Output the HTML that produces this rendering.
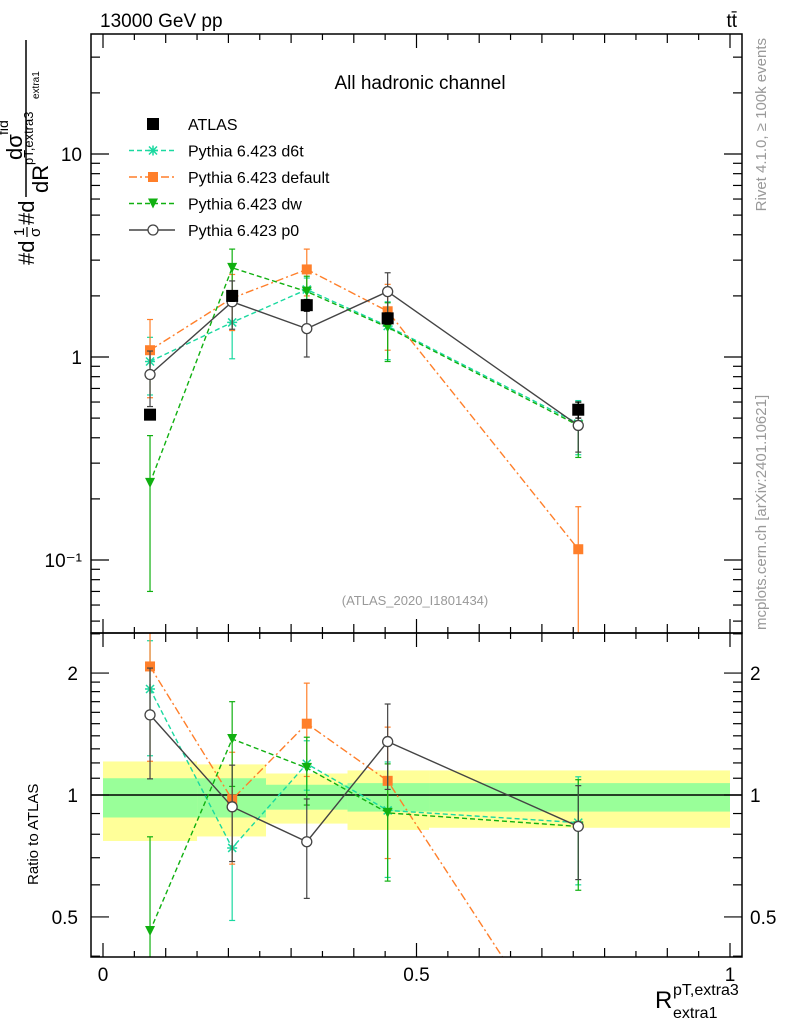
<!DOCTYPE html>
<html><head><meta charset="utf-8"><style>
body{margin:0;background:#fff;overflow:hidden;}
svg{display:block;font-family:"Liberation Sans",sans-serif;}
</style></head><body>
<svg id="c" width="786" height="1024" viewBox="0 0 786 1024" xmlns="http://www.w3.org/2000/svg">
<defs>
<clipPath id="cm"><rect x="91" y="34" width="651" height="599"/></clipPath>
<clipPath id="cr"><rect x="91" y="633" width="651" height="324"/></clipPath>
</defs>
<rect x="0" y="0" width="786" height="1024" fill="#fff"/>
<g id="bands" clip-path="url(#cr)"></g>
<g id="marks"></g>
<g id="axes"></g>
<text x="100" y="27" font-size="19">13000 GeV pp</text>
<text x="737" y="27" font-size="19" text-anchor="end">tt̄</text>
<text x="420" y="89" font-size="19" text-anchor="middle">All hadronic channel</text>
<text x="415" y="605" font-size="13" fill="#999" text-anchor="middle">(ATLAS_2020_I1801434)</text>
<text transform="translate(766,38) rotate(-90)" font-size="15" fill="#999" text-anchor="end">Rivet 4.1.0, ≥ 100k events</text>
<text transform="translate(766,630) rotate(-90)" font-size="15" fill="#999">mcplots.cern.ch [arXiv:2401.10621]</text>
<g transform="translate(34,265) rotate(-90)">
<text x="0" y="0" font-size="22">#d</text>
<text x="29" y="-10" font-size="15">1</text>
<line x1="28" y1="-7" x2="38" y2="-7" stroke="#000" stroke-width="1.2"/>
<text x="28" y="6" font-size="15">σ</text>
<text x="40" y="0" font-size="22">#d</text>
<line x1="68" y1="-8" x2="225" y2="-8" stroke="#000" stroke-width="1.5"/>
<text x="105" y="-12" font-size="22">dσ</text><text x="130" y="-26" font-size="14">fid</text>
<text x="72" y="14" font-size="22">dR</text><text x="100" y="-1" font-size="13">pT,extra3</text><text x="166" y="5" font-size="10">extra1</text>
</g>
<text transform="translate(38,885) rotate(-90)" font-size="15">Ratio to ATLAS</text>
<g>
<text x="655" y="1008" font-size="24">R</text>
<text x="673" y="995" font-size="16">pT,extra3</text>
<text x="673" y="1018" font-size="16">extra1</text>
</g>
<g id="legend"></g>
</svg>
<script>
const categories=[0.075,0.206,0.325,0.454,0.758];
const binEdges=[0,0.15,0.26,0.39,0.52,1.0];
const atlasVals=[0.52,2.0,1.8,1.55,0.55];
const atlasErr=[0.03,0.12,0.12,0.1,0.05];
const d6tVals=[0.95,1.48,2.15,1.42,0.47];
const d6tErr=[0.3,0.5,0.3,0.45,0.14];
const defVals=[1.08,1.95,2.7,1.68,0.113];
const defErr=[0.45,0.6,0.7,0.6,0.07];
const dwVals=[0.24,2.75,2.1,1.4,0.46];
const dwErr=[0.17,0.65,0.4,0.45,0.14];
const p0Vals=[0.82,1.87,1.38,2.1,0.46];
const p0Err=[0.25,0.5,0.38,0.5,0.12];
const yellowHi=[1.21,1.19,1.13,1.15,1.15];
const yellowLo=[0.77,0.79,0.85,0.82,0.83];
const greenHi=[1.10,1.10,1.06,1.07,1.07];
const greenLo=[0.88,0.88,0.92,0.91,0.91];
const mainTicks=[0.1,1,10];
const mainTickLabels=["10⁻¹","1","10"];
const ratioTicks=[0.5,1,2];
const ratioTickLabels=["0.5","1","2"];
const xTicks=[0,0.5,1];
const xTickLabels=["0","0.5","1"];

const NS="http://www.w3.org/2000/svg";
const X=v=>103+627*v;
const YM=v=>357-203*Math.log10(v);
const YR=r=>795-405*Math.log10(r);
function el(p,t,a){const e=document.createElementNS(NS,t);for(const k in a)e.setAttribute(k,a[k]);p.appendChild(e);return e;}
const bands=document.getElementById('bands'),marks=document.getElementById('marks'),axes=document.getElementById('axes'),legend=document.getElementById('legend');

for(let i=0;i<5;i++){
  const x0=X(binEdges[i]),x1=X(binEdges[i+1]);
  let r=el(bands,'rect',{x:x0,y:YR(yellowHi[i]),width:x1-x0,height:YR(yellowLo[i])-YR(yellowHi[i]),fill:'#ffff99'});
  
  
  r=el(bands,'rect',{x:x0,y:YR(greenHi[i]),width:x1-x0,height:YR(greenLo[i])-YR(greenHi[i]),fill:'#99ff99'});
  
  
}
let ln=el(bands,'line',{x1:91,x2:742,y1:YR(1),y2:YR(1),stroke:'#000','stroke-width':1.5});



const series=[
 {name:'d6t',vals:d6tVals,err:d6tErr,color:'#1ad9a0',dash:'5,3',marker:'star'},
 {name:'default',vals:defVals,err:defErr,color:'#ff7f2a',dash:'8,3,2,3',marker:'square'},
 {name:'dw',vals:dwVals,err:dwErr,color:'#10b010',dash:'5,3',marker:'tri'},
 {name:'p0',vals:p0Vals,err:p0Err,color:'#444',dash:'',marker:'circle'}
];
function marker(g,type,x,y,color){
  let m;
  if(type==='square')m=el(g,'rect',{x:x-5,y:y-5,width:10,height:10,fill:color});
  else if(type==='circle')m=el(g,'circle',{cx:x,cy:y,r:5,fill:'#fff',stroke:color,'stroke-width':1.3});
  else if(type==='tri')m=el(g,'path',{d:`M${x-5},${y-5}L${x+5},${y-5}L${x},${y+5}Z`,fill:color});
  else {m=el(g,'path',{d:`M${x-5},${y}H${x+5}M${x},${y-5}V${y+5}M${x-4},${y-4}L${x+4},${y+4}M${x-4},${y+4}L${x+4},${y-4}`,stroke:color,'stroke-width':1.5});}
  return m;
}
function errbar(g,x,y1,y2,color){
  el(g,'line',{x1:x,x2:x,y1:y1,y2:y2,stroke:color,'stroke-width':1.2});
  el(g,'line',{x1:x-3,x2:x+3,y1:y1,y2:y1,stroke:color,'stroke-width':1.2});
  el(g,'line',{x1:x-3,x2:x+3,y1:y2,y2:y2,stroke:color,'stroke-width':1.2});
}
function drawPanel(clip,vf,errf,yf){
  const g=el(marks,'g',{'clip-path':`url(#${clip})`});
  series.forEach(s=>{
    const sg=el(g,'g',{});
    
    
    const pts=categories.map((c,i)=>[X(c),yf(vf(s,i))]);
    el(sg,'polyline',{points:pts.map(p=>p.join(',')).join(' '),fill:'none',stroke:s.color,'stroke-width':1.4,'stroke-dasharray':s.dash});
    categories.forEach((c,i)=>{
      const v=vf(s,i),e=errf(s,i);
      errbar(sg,X(c),yf(v+e),yf(Math.max(v-e,1e-4)),s.color);
      const m=marker(sg,s.marker,X(c),yf(v),s.color);
      
      
    });
  });
  return g;
}
drawPanel('cm',(s,i)=>s.vals[i],(s,i)=>s.err[i],YM);
drawPanel('cr',(s,i)=>s.vals[i]/atlasVals[i],(s,i)=>s.err[i]/atlasVals[i],YR);
const ag=el(marks,'g',{'clip-path':'url(#cm)'});


categories.forEach((c,i)=>{
  errbar(ag,X(c),YM(atlasVals[i]+atlasErr[i]),YM(atlasVals[i]-atlasErr[i]),'#000');
  const m=el(ag,'rect',{x:X(c)-6,y:YM(atlasVals[i])-6,width:12,height:12,fill:'#000'});
  
  
});

el(axes,'rect',{x:91,y:34,width:651,height:599,fill:'none',stroke:'#000','stroke-width':1.5});
el(axes,'rect',{x:91,y:633,width:651,height:324,fill:'none',stroke:'#000','stroke-width':1.5});
for(let k=0;k<=20;k++){
  const v=k*0.05,x=X(v);
  const L=(k%10===0)?14:(k%2===0?9:6);
  [[34,1],[633,-1],[633,1],[957,-1]].forEach(([y,d])=>el(axes,'line',{x1:x,x2:x,y1:y,y2:y+d*L,stroke:'#000','stroke-width':1.2}));
}
xTicks.forEach((v,i)=>{const t=el(axes,'text',{x:X(v),y:981,'font-size':19,'text-anchor':'middle'});t.textContent=xTickLabels[i];

});
for(let d=-2;d<=1;d++)for(let m=1;m<=9;m++){
  const v=m*Math.pow(10,d),y=YM(v);if(y<34||y>633)continue;
  const L=m===1?18:9;
  el(axes,'line',{x1:91,x2:91+L,y1:y,y2:y,stroke:'#000','stroke-width':1.2});
  el(axes,'line',{x1:742,x2:742-L,y1:y,y2:y,stroke:'#000','stroke-width':1.2});
}
mainTicks.forEach((v,i)=>{const t=el(axes,'text',{x:82,y:YM(v)+7,'font-size':19,'text-anchor':'end'});t.textContent=mainTickLabels[i];

});
[0.4,0.5,0.6,0.7,0.8,0.9,1,1.1,1.2,1.3,1.4,1.5,1.6,1.7,1.8,1.9,2,2.5].forEach(v=>{
  const y=YR(v);if(y<633||y>957)return;
  const L=(v===0.5||v===1||v===2)?18:9;
  el(axes,'line',{x1:91,x2:91+L,y1:y,y2:y,stroke:'#000','stroke-width':1.2});
  el(axes,'line',{x1:742,x2:742-L,y1:y,y2:y,stroke:'#000','stroke-width':1.2});
});
ratioTicks.forEach((v,i)=>{
  let t=el(axes,'text',{x:78,y:YR(v)+7,'font-size':19,'text-anchor':'end'});t.textContent=ratioTickLabels[i];
  
  
  t=el(axes,'text',{x:750,y:YR(v)+7,'font-size':19});t.textContent=ratioTickLabels[i];
  
  
});
const legItems=[{label:'ATLAS',marker:'atlas',color:'#000',dash:''}].concat(series.map(s=>({label:'Pythia 6.423 '+s.name,marker:s.marker,color:s.color,dash:s.dash})));
legItems.forEach((it,i)=>{
  const y=124+26.5*i;
  const g=el(legend,'g',{});
  
  
  if(it.marker==='atlas'){el(g,'rect',{x:147,y:y-6,width:12,height:12,fill:'#000'});}
  else{el(g,'line',{x1:129,x2:175,y1:y,y2:y,stroke:it.color,'stroke-width':1.4,'stroke-dasharray':it.dash});marker(g,it.marker,153,y,it.color);}
  const t=el(g,'text',{x:188,y:y+6,'font-size':16});t.textContent=it.label;
});
</script>
</body></html>
